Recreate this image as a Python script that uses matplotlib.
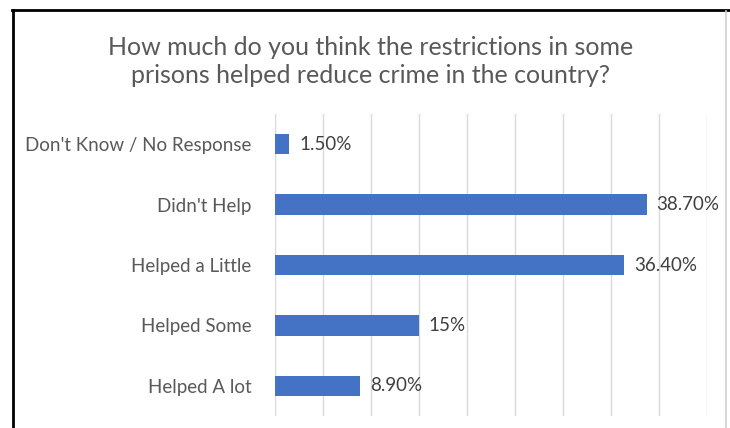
import matplotlib.pyplot as plt
from matplotlib.lines import Line2D

# Survey responses (percent)
categories = ["Helped A lot", "Helped Some", "Helped a Little", "Didn't Help",
              "Don't Know / No Response"]
values = [8.9, 15.0, 36.4, 38.7, 1.5]
value_labels = ["8.90%", "15%", "36.40%", "38.70%", "1.50%"]
title = ("How much do you think the restrictions in some\n"
         "prisons helped reduce crime in the country?")

plt.rcParams['font.family'] = ['Lato', 'DejaVu Sans']

fig = plt.figure(figsize=(7.3, 4.28), dpi=100)
ax = fig.add_axes([0.3767, 0.028, 0.5918, 0.7056])

y = range(len(categories))
ax.barh(y, values, height=0.34, color='#4472C4', zorder=3)

for yi, v, lab in zip(y, values, value_labels):
    ax.text(v + 1.0, yi, lab, va='center', ha='left', fontsize=13.5, color='#404040')

ax.set_xlim(0, 45)
ax.set_ylim(-0.5, len(categories) - 0.5)
ax.set_xticks(range(0, 46, 5))
ax.set_xticklabels([])
ax.set_yticks(list(y))
ax.set_yticklabels(categories, fontsize=13.5, color='#595959')
ax.tick_params(axis='y', length=0, pad=17)
ax.tick_params(axis='x', length=0)
ax.grid(axis='x', color='#D9D9D9', linewidth=1, zorder=0)
for s in ax.spines.values():
    s.set_visible(False)

fig.text(0.508, 0.856, title, ha='center', va='center', fontsize=18,
         color='#595959', linespacing=1.3)

# Frame edges
fig.add_artist(Line2D([13 / 730, 13 / 730], [0, 1 - 10 / 428], color='black', lw=2))
fig.add_artist(Line2D([12 / 730, 1], [1 - 10 / 428, 1 - 10 / 428], color='black', lw=2))
fig.add_artist(Line2D([726 / 730, 726 / 730], [0, 1 - 11 / 428], color='#D0D0D0', lw=1.2))

fig.savefig('out.png', dpi=100)
